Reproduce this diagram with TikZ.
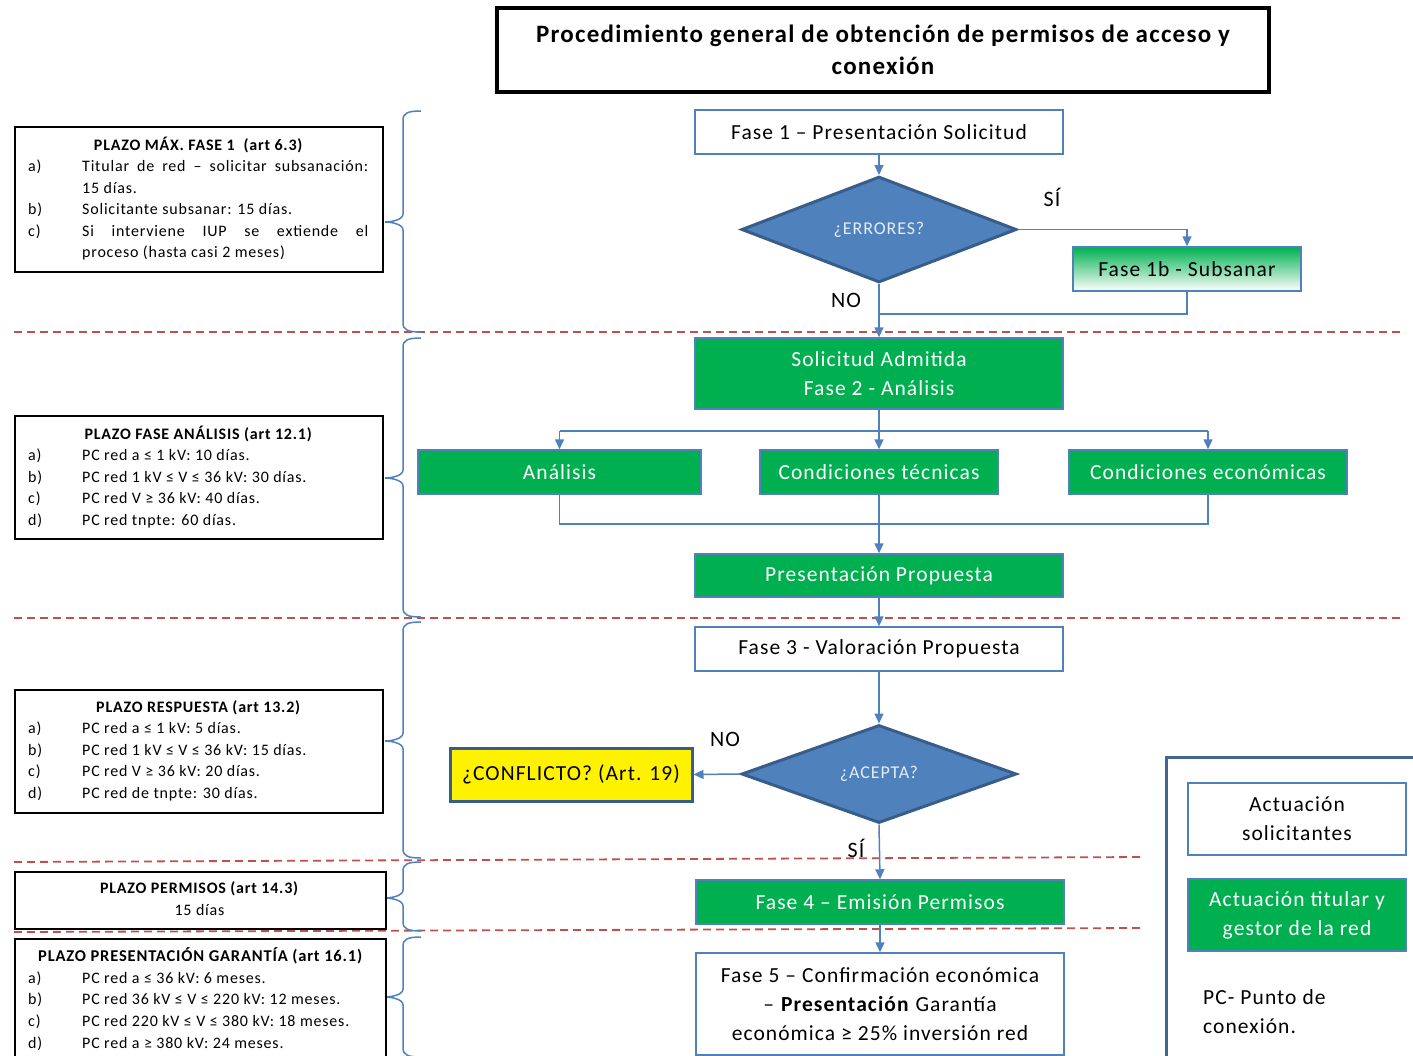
\documentclass[tikz,border=0pt]{standalone}
\usepackage{fontspec}
\setmainfont{Carlito}[LetterSpace=5]
\usetikzlibrary{shapes.geometric,arrows.meta,calc}
\definecolor{bl}{RGB}{79,129,189}
\definecolor{dbl}{RGB}{56,93,138}
\definecolor{gr}{RGB}{0,176,80}
\definecolor{rd}{RGB}{192,80,77}
\definecolor{frm}{RGB}{68,103,143}
\newcommand{\fs}[2]{\fontsize{#1}{#2}\selectfont}
\newcommand{\mybrc}[3]{%
  \draw[brc] (421,#1) .. controls (408,#1) and (403,#1+2) .. (403,#1+9)
    -- (403,#2-8) .. controls (403,#2-2) and (391,#2) .. (385,#2)
    .. controls (391,#2) and (403,#2+2) .. (403,#2+8)
    -- (403,#3-9) .. controls (403,#3-2) and (408,#3) .. (421,#3);}
\tikzset{
  wbox/.style={draw=bl, line width=1.5pt, fill=white, inner sep=0pt, align=center, font=\fs{21.5}{29}},
  gbox/.style={wbox, fill=gr, text=white},
  dia/.style={diamond, draw=dbl, line width=3pt, fill=bl, inner sep=0pt, text=white!85!bl, font=\fs{18}{20}},
  conn/.style={draw=bl, line width=1.5pt},
  arr/.style={conn, -{Triangle[length=10pt,width=9pt]}},
  sepline/.style={draw=rd, line width=1.8pt, dash pattern=on 8pt off 5pt},
  plazo/.style={draw=black, line width=1.6pt, inner sep=0pt, anchor=north west},
  plazotxt/.style={inner sep=0pt, anchor=north west},
  brc/.style={draw=bl, line width=1.5pt},
  lbl/.style={font=\fs{22}{25}, inner sep=0pt},
}
\begin{document}
\begin{tikzpicture}[x=1pt,y=-1pt]
\useasboundingbox (0,0) rectangle (1413,1055);
\fill[white] (0,0) rectangle (1413,1055);

% separators
\draw[sepline] (14,332) -- (1405,332);
\draw[sepline] (14,618) -- (1405,618);
\draw[sepline] (14,862) -- (1143,857);
\draw[sepline] (14,932) -- (1143,928);

% title
\node[draw=black, line width=4pt, minimum width=772pt, minimum height=84pt, inner sep=0pt, align=center,
  font=\fs{25}{32}\bfseries] (title) at (883,50)
  {Procedimiento general de obtención de permisos de acceso y\\conexión};

% flow nodes
\node[wbox, minimum width=368pt, minimum height=44pt] (f1) at (879,132) {Fase 1 -- Presentación Solicitud};
\node[dia, minimum width=275pt, minimum height=99pt] (err) at (879,229.5) {¿ERRORES?};
\node[wbox, minimum width=228pt, minimum height=44pt, top color=gr, middle color=white, bottom color=white] (f1b) at (1187,269) {Fase 1b - Subsanar};
\node[gbox, minimum width=368pt, minimum height=71pt] (sa) at (879,373.5) {Solicitud Admitida\\Fase 2 - Análisis};
\node[gbox, minimum width=283pt, minimum height=44pt] (an) at (559.5,472) {Análisis};
\node[gbox, minimum width=238pt, minimum height=44pt] (ct) at (879,472) {Condiciones técnicas};
\node[gbox, minimum width=278pt, minimum height=44pt] (ce) at (1208,472) {Condiciones económicas};
\node[gbox, minimum width=368pt, minimum height=43pt] (pp) at (879,575.5) {Presentación Propuesta};
\node[wbox, minimum width=368pt, minimum height=44pt] (f3) at (879,649) {Fase 3 - Valoración Propuesta};
\node[dia, minimum width=275pt, minimum height=98pt] (acc) at (879,774) {¿ACEPTA?};
\node[wbox, draw=dbl, line width=3pt, fill=yellow, minimum width=242pt, minimum height=53pt] (conf) at (571,774.5) {¿CONFLICTO? (Art. 19)};
\node[gbox, minimum width=368pt, minimum height=44pt] (f4) at (880,902) {Fase 4 -- Emisión Permisos};
\node[wbox, minimum width=368pt, minimum height=102pt] (f5) at (880,1004)
  {Fase 5 -- Confirmación económica\\-- \textbf{Presentación} Garantía\\económica ≥ 25\% inversión red};

% labels
\node[lbl] (si1) at (1052,197) {SÍ};
\node[lbl] (no1) at (846,300) {NO};
\node[lbl] (no2) at (725,739) {NO};
\node[lbl] (si2) at (856,848) {SÍ};

% connectors
\coordinate (j1) at (879,314);
\coordinate (j2) at (879,431);
\coordinate (j3) at (879,524);
\draw[arr] (f1.south) -- (err.north);
\draw[arr] (err.east) -- (f1b.north |- err.east) -- (f1b.north);
\draw[conn] (f1b.south) -- (f1b.south |- j1) -- (j1);
\draw[arr] (err.south) -- (sa.north);
\draw[conn] (sa.south) -- (j2);
\draw[conn] (an.north |- j2) -- (ce.north |- j2);
\draw[arr] (j2) -- (ct.north);
\draw[arr] (an.north |- j2) -- (an.north);
\draw[arr] (ce.north |- j2) -- (ce.north);
\draw[conn] (an.south) -- (an.south |- j3) -- (ce.south |- j3) -- (ce.south);
\draw[arr] (ct.south) -- (pp.north);
\draw[arr] (pp.south) -- (f3.north);
\draw[arr] (f3.south) -- (acc.north);
\draw[arr] (acc.west) -- (conf.east);
\draw[arr] (acc.south) -- (f4.north);
\draw[arr] (f4.south) -- (f5.north);

% braces
\mybrc{111}{222}{332}
\mybrc{338}{478}{617}
\mybrc{622}{741}{858}
\mybrc{862}{898}{931}
\mybrc{937}{997}{1057}

% left boxes
\node[plazo, minimum width=368pt, minimum height=145pt] (b1) at (14,126) {};
\node[plazotxt] (t1) at (28,135) {\fs{16}{21.5}\begin{tabular}{@{}p{54pt}@{}p{286pt}@{}}
  \multicolumn{2}{@{}c@{}}{\bfseries PLAZO MÁX. FASE 1\ \ (art 6.3)}\\
  a) & Titular de red -- solicitar subsanación:\linebreak 15 días.\\
  b) & Solicitante subsanar: 15 días.\\
  c) & Si interviene IUP se extiende el\linebreak proceso (hasta casi 2 meses)
\end{tabular}};

\node[plazo, minimum width=368pt, minimum height=123pt] (b2) at (14,415) {};
\node[plazotxt] (t2) at (28,424) {\fs{16}{21.5}\begin{tabular}{@{}p{54pt}@{}p{286pt}@{}}
  \multicolumn{2}{@{}c@{}}{\bfseries PLAZO FASE ANÁLISIS (art 12.1)}\\
  a) & PC red a ≤ 1 kV: 10 días.\\
  b) & PC red 1 kV ≤ V ≤ 36 kV: 30 días.\\
  c) & PC red V ≥ 36 kV: 40 días.\\
  d) & PC red tnpte: 60 días.
\end{tabular}};

\node[plazo, minimum width=368pt, minimum height=123pt] (b3) at (14,689) {};
\node[plazotxt] (t3) at (28,697) {\fs{16}{21.5}\begin{tabular}{@{}p{54pt}@{}p{286pt}@{}}
  \multicolumn{2}{@{}c@{}}{\bfseries PLAZO RESPUESTA (art 13.2)}\\
  a) & PC red a ≤ 1 kV: 5 días.\\
  b) & PC red 1 kV ≤ V ≤ 36 kV: 15 días.\\
  c) & PC red V ≥ 36 kV: 20 días.\\
  d) & PC red de tnpte: 30 días.
\end{tabular}};

\node[plazo, minimum width=371pt, minimum height=57pt] (b4) at (14,871) {};
\node[inner sep=0pt, align=center, font=\fs{16}{21.5}] (t4) at (199.5,898.5) {\textbf{PLAZO PERMISOS (art 14.3)}\\15 días};

\node[plazo, minimum width=371pt, minimum height=130pt] (b5) at (14,938) {};
\node[plazotxt] (t5) at (28,946) {\fs{16}{21.7}\begin{tabular}{@{}p{54pt}@{}p{290pt}@{}}
  \multicolumn{2}{@{}c@{}}{\fontsize{16.5}{21.7}\selectfont\bfseries PLAZO PRESENTACIÓN GARANTÍA (art 16.1)}\\
  a) & PC red a ≤ 36 kV: 6 meses.\\
  b) & PC red 36 kV ≤ V ≤ 220 kV: 12 meses.\\
  c) & PC red 220 kV ≤ V ≤ 380 kV: 18 meses.\\
  d) & PC red a ≥ 380 kV: 24 meses.
\end{tabular}};

% legend
\coordinate (fa) at (1166,1062);
\coordinate (fb) at (1166,757);
\coordinate (fc) at (1420,757);
\draw[frm, line width=3pt] (fa) -- (fb) -- (fc);
\node[wbox, minimum width=218pt, minimum height=72pt] (leg1) at (1297,819) {Actuación\\solicitantes};
\node[gbox, minimum width=218pt, minimum height=72pt] (leg2) at (1297,915) {Actuación titular y\\gestor de la red};
\node[inner sep=0pt, anchor=north west, align=left, font=\fs{21.5}{29}] (pc) at (1203,989) {PC- Punto de\\conexión.};
\end{tikzpicture}
\end{document}
